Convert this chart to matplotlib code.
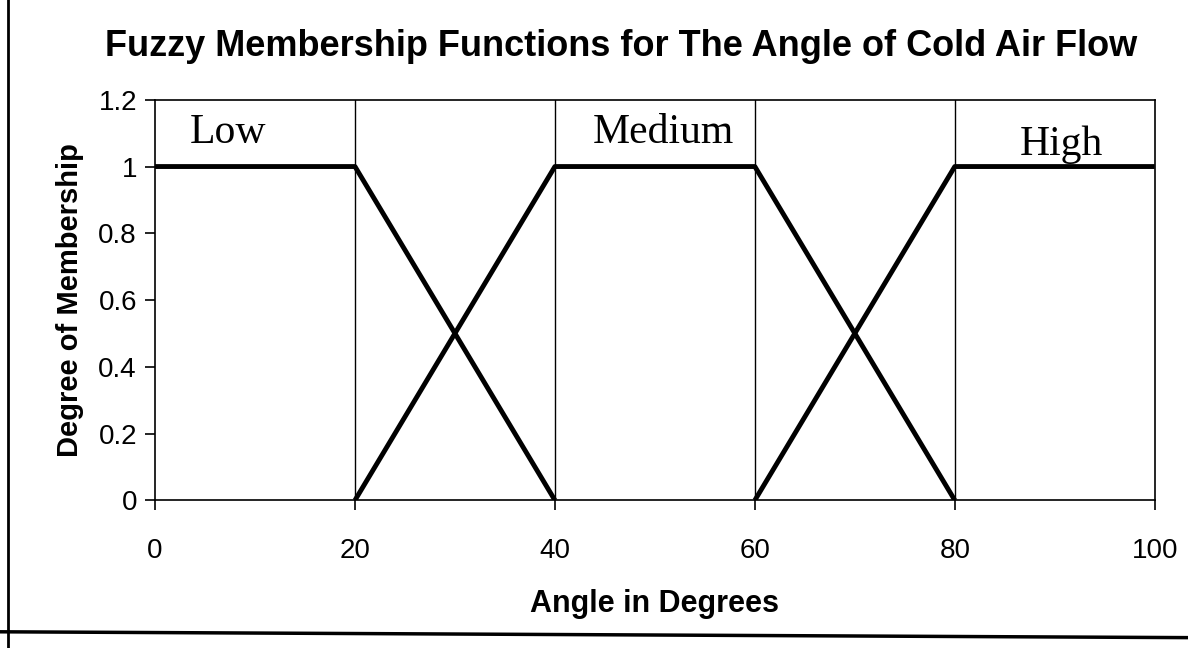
import matplotlib.pyplot as plt
from matplotlib.lines import Line2D

# membership function breakpoints
low_x = [0, 20, 40]
low_y = [1, 1, 0]
medium_x = [20, 40, 60, 80]
medium_y = [0, 1, 1, 0]
high_x = [60, 80, 100]
high_y = [0, 1, 1]

set_labels = ['Low', 'Medium', 'High']
label_x = [3.5, 50.8, 90.7]
label_y = [1.1, 1.1, 1.065]

x_ticks = [0, 20, 40, 60, 80, 100]
y_ticks = [0, 0.2, 0.4, 0.6, 0.8, 1, 1.2]
y_ticklabels = ['0', '0.2', '0.4', '0.6', '0.8', '1', '1.2']

fig = plt.figure(figsize=(11.88, 6.48), dpi=100)
ax = fig.add_axes([0.1305, 0.228, 0.8415, 0.618])

for xs, ys in [(low_x, low_y), (medium_x, medium_y), (high_x, high_y)]:
    ax.plot(xs, ys, color='black', lw=3.5, solid_capstyle='butt', zorder=3)

# thin vertical grid lines
for xv in x_ticks[1:-1]:
    ax.axvline(xv, color='black', lw=1, zorder=1)

ax.text(label_x[0], label_y[0], set_labels[0], family='Liberation Serif', fontsize=30, va='center', ha='left')
ax.text(label_x[1], label_y[1], set_labels[1], family='Liberation Serif', fontsize=30, va='center', ha='center')
ax.text(label_x[2], label_y[2], set_labels[2], family='Liberation Serif', fontsize=30, va='center', ha='center')

ax.set_xlim(0, 100)
ax.set_ylim(0, 1.2)
ax.set_xticks(x_ticks)
ax.set_yticks(y_ticks)
ax.set_yticklabels(y_ticklabels)
ax.tick_params(direction='out', length=7, width=1.2, labelsize=20)
ax.tick_params(axis='x', pad=20)
ax.tick_params(axis='y', pad=6)
for lab in ax.get_xticklabels() + ax.get_yticklabels():
    lab.set_family('Liberation Sans')

for s in ax.spines.values():
    s.set_linewidth(1.2)

ax.set_xlabel('Angle in Degrees', family='Liberation Sans', fontweight='bold', fontsize=22, labelpad=18)
ax.set_ylabel('Degree of Membership', family='Liberation Sans', fontweight='bold', fontsize=21, labelpad=10)
fig.suptitle('Fuzzy Membership Functions for The Angle of Cold Air Flow',
             family='Liberation Sans', fontweight='bold', fontsize=26, x=0.523, y=0.955)

# page border remnants from the scan
fig.add_artist(Line2D([0.007, 0.007], [0.0, 1.0], color='black', lw=2, transform=fig.transFigure))
fig.add_artist(Line2D([0.0, 1.0], [0.025, 0.016], color='black', lw=2.5, transform=fig.transFigure))

fig.savefig('out.png', dpi=100, facecolor='white')
